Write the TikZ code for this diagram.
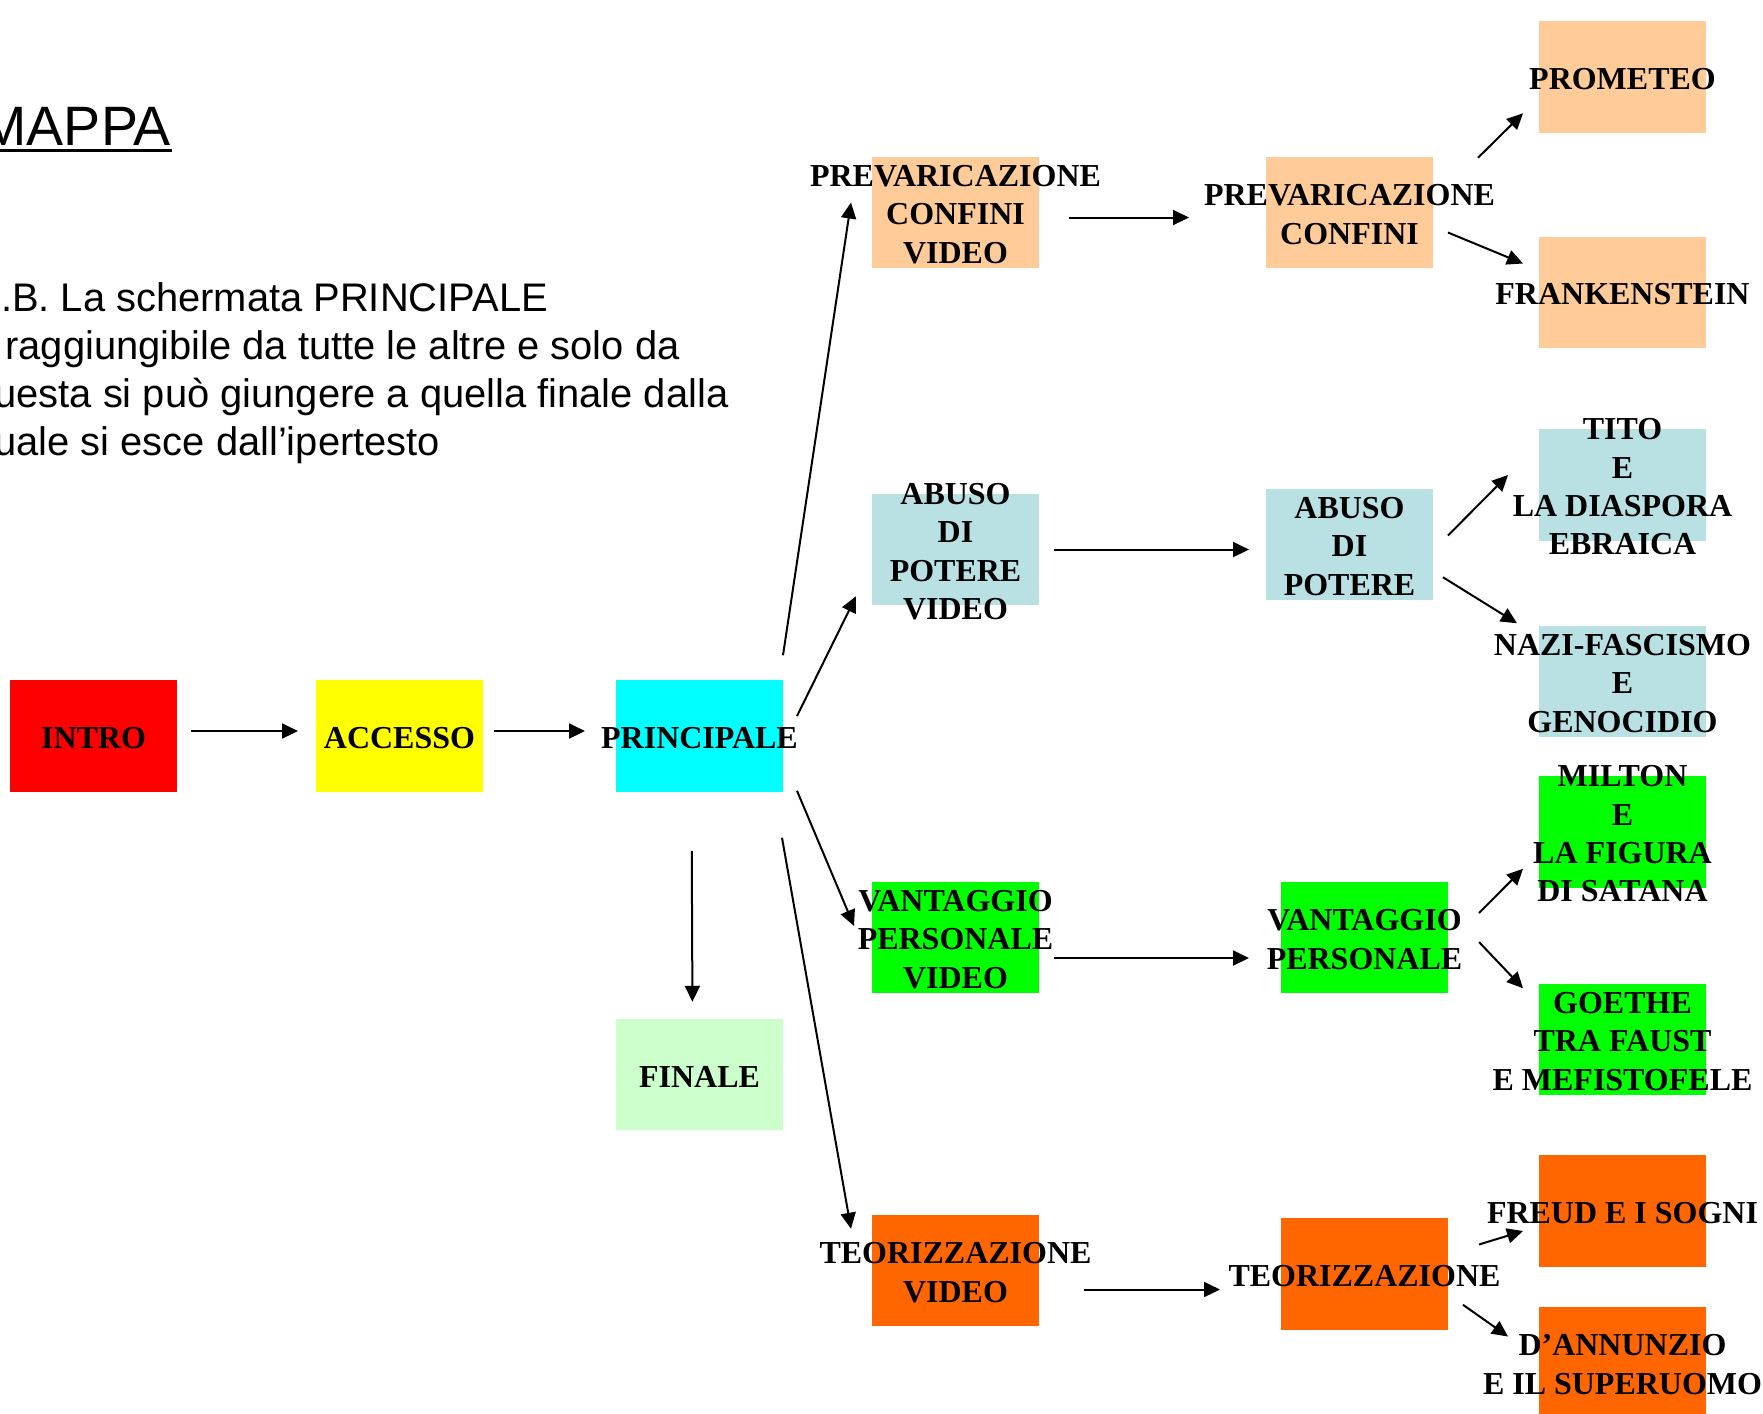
\documentclass[tikz,border=0pt]{standalone}
\usepackage{fontspec}
\setmainfont{Liberation Serif}
\newfontfamily\arialfont{Liberation Sans}
\usetikzlibrary{positioning,arrows.meta}

\definecolor{introred}{RGB}{255,0,0}
\definecolor{accessoyellow}{RGB}{255,255,0}
\definecolor{maincyan}{RGB}{0,255,255}
\definecolor{brightgreen}{RGB}{0,255,0}
\definecolor{peach}{RGB}{255,204,153}
\definecolor{paleblue}{RGB}{185,224,227}
\definecolor{palegreen}{RGB}{204,255,204}
\definecolor{orangebox}{RGB}{255,102,0}

\begin{document}
\begin{tikzpicture}[
        page_node/.style={rectangle, minimum width=16.7mm, minimum height=11.15mm, inner sep=0pt, outer sep=0pt},
        page_text/.style={align=center, inner sep=0pt, yshift=-0.2mm, font=\fontsize{9.1}{10.9}\selectfont\bfseries},
        link/.style={-{Triangle[length=1.6mm,width=1.5mm]}, line width=0.2mm}
        ]
            \useasboundingbox (0,0) rectangle (176.3mm,-141.3mm);
            \clip (0,0) rectangle (176.3mm,-141.3mm);

            % title and note
            \node[anchor=base west, inner sep=0pt, font=\arialfont\fontsize{15.8}{18}\selectfont] (mappa) at (-2mm,-14.5mm) {MAPPA};
            \draw[line width=0.3mm] ([yshift=-0.55mm]mappa.base west) -- ([yshift=-0.55mm]mappa.base east);
            \node[anchor=north west, align=left, inner sep=0pt, font=\arialfont\fontsize{11.35}{13.66}\selectfont] (nota) at (-2.85mm,-28.2mm)
                {N.B. La schermata PRINCIPALE\\è raggiungibile da tutte le altre e solo da\\questa si può giungere a quella finale dalla\\quale si esce dall’ipertesto};

            % main line
            \node[page_node, fill=introred, label={[page_text]center:INTRO}]        (intro)      at (9.35mm,-73.6mm) {};
            \node[page_node, fill=accessoyellow, label={[page_text]center:ACCESSO}] (accesso)    [right = 13.9mm of intro]       {};
            \node[page_node, fill=maincyan, label={[page_text]center:PRINCIPALE}]   (principale) [right = 13.3mm of accesso]     {};
            \node[page_node, fill=palegreen, label={[page_text]center:FINALE}]      (finale)     [below = 22.7mm of principale]  {};
            % video pages
            \node[page_node, fill=peach, label={[page_text]center:{PREVARICAZIONE\\CONFINI\\VIDEO}}]     (prev_video)      [above right = 41.2mm and 8.9mm of principale] {};
            \node[page_node, fill=paleblue, label={[page_text]center:{ABUSO\\DI\\POTERE\\VIDEO}}]        (abuso_video)     [above right = 7.5mm and 8.9mm of principale]  {};
            \node[page_node, fill=brightgreen, label={[page_text]center:{VANTAGGIO\\PERSONALE\\VIDEO}}]  (vantaggio_video) [below right = 9mm and 8.9mm of principale]    {};
            \node[page_node, fill=orangebox, label={[page_text]center:{TEORIZZAZIONE\\VIDEO}}]          (teor_video)      [below right = 42.3mm and 8.9mm of principale] {};
            % topic pages
            \node[page_node, fill=peach, label={[page_text]center:{PREVARICAZIONE\\CONFINI}}]      (prev)      [right = 22.7mm of prev_video]                {};
            \node[page_node, fill=paleblue, label={[page_text]center:{ABUSO\\DI\\POTERE}}]         (abuso)     [right = 22.7mm of abuso_video, yshift=0.5mm] {};
            \node[page_node, fill=brightgreen, label={[page_text]center:{VANTAGGIO\\PERSONALE}}]   (vantaggio) [right = 24.2mm of vantaggio_video]           {};
            \node[page_node, fill=orangebox, label={[page_text]center:TEORIZZAZIONE}]              (teor)      [right = 24.2mm of teor_video, yshift=-0.35mm] {};
            % authors
            \node[page_node, fill=peach, label={[page_text]center:PROMETEO}]                                  (prometeo)     [above right = 2.4mm and 10.6mm of prev] {};
            \node[page_node, fill=peach, label={[page_text]center:FRANKENSTEIN}]                              (frankenstein) [below = 10.4mm of prometeo]     {};
            \node[page_node, fill=paleblue, label={[page_text]center:{TITO\\E\\LA DIASPORA\\EBRAICA}}]        (tito)         [below = 8.1mm of frankenstein]  {};
            \node[page_node, fill=paleblue, label={[page_text]center:{NAZI-FASCISMO\\E\\GENOCIDIO}}]          (nazi)         [below = 8.5mm of tito]          {};
            \node[page_node, fill=brightgreen, label={[page_text]center:{MILTON\\E\\LA FIGURA\\DI SATANA}}]   (milton)       [below = 3.9mm of nazi]          {};
            \node[page_node, fill=brightgreen, label={[page_text]center:{GOETHE\\TRA FAUST\\E MEFISTOFELE}}]  (goethe)       [below = 9.6mm of milton]        {};
            \node[page_node, fill=orangebox, label={[page_text]center:FREUD E I SOGNI}]                       (freud)        [below = 6mm of goethe]          {};
            \node[page_node, fill=orangebox, label={[page_text]center:{D’ANNUNZIO\\E IL SUPERUOMO}}]          (dannunzio)    [below = 4mm of freud]           {};

            % Lines
            \draw[link, shorten <=1.4mm, shorten >=1.8mm] ([yshift=0.5mm]intro.east) -- ([yshift=0.5mm]accesso.west);
            \draw[link, shorten <=1.1mm, shorten >=3.1mm] ([yshift=0.5mm]accesso.east) -- ([yshift=0.5mm]principale.west);
            \draw[link, shorten <=5.9mm, shorten >=1.7mm] ([xshift=-0.8mm]principale.south) -- ([xshift=-0.7mm]finale.north);
            \draw[link] ([yshift=2.5mm]principale.north east) -- ([shift={(-2.1mm,1mm)}]prev_video.west);
            \draw[link] ([shift={(1.4mm,2mm)}]principale.east) -- ([shift={(-1.6mm,0.9mm)}]abuso_video.south west);
            \draw[link] ([shift={(1.4mm,0.1mm)}]principale.south east) -- ([shift={(-1.8mm,1.15mm)}]vantaggio_video.west);
            \draw[link] ([shift={(-0.1mm,-4.6mm)}]principale.south east) -- ([shift={(-2.1mm,-1.4mm)}]teor_video.north west);
            % video to topic
            \draw[link, shorten <=3mm, shorten >=7.7mm] ([yshift=-0.5mm]prev_video.east) -- ([yshift=-0.5mm]prev.west);
            \draw[link, shorten <=1.5mm, shorten >=1.7mm] (abuso_video.east) -- (abuso_video.east -| abuso.west);
            \draw[link, shorten <=1.5mm, shorten >=3.2mm] ([yshift=-2.05mm]vantaggio_video.east) -- ([yshift=-2.05mm]vantaggio.west);
            \draw[link, shorten <=4.5mm, shorten >=6.1mm] ([yshift=-1.9mm]teor_video.east) -- ([yshift=-1.9mm]teor_video.east -| teor.west);
            % topic to authors
            \draw[link] ([shift={(4.5mm,-0.1mm)}]prev.north east) -- ([shift={(-1.6mm,1.95mm)}]prometeo.south west);
            \draw[link] ([shift={(1.5mm,-2mm)}]prev.east) -- ([shift={(-1.6mm,2.9mm)}]frankenstein.west);
            \draw[link] ([shift={(1.5mm,0.9mm)}]abuso.east) -- ([shift={(-3.1mm,1mm)}]tito.west);
            \draw[link] ([shift={(1mm,2.3mm)}]abuso.south east) -- ([shift={(-2.2mm,0.25mm)}]nazi.north west);
            \draw[link] ([shift={(3.1mm,2.45mm)}]vantaggio.east) -- ([shift={(-1.6mm,1.9mm)}]milton.south west);
            \draw[link] ([shift={(3.1mm,-0.45mm)}]vantaggio.east) -- ([shift={(-1.6mm,-0.45mm)}]goethe.north west);
            \draw[link] ([shift={(3.1mm,2.95mm)}]teor.east) -- ([shift={(-1.6mm,-2mm)}]freud.west);
            \draw[link] ([shift={(1.5mm,2.5mm)}]teor.south east) -- ([shift={(-3.1mm,2.6mm)}]dannunzio.west);
        \end{tikzpicture}
\end{document}
